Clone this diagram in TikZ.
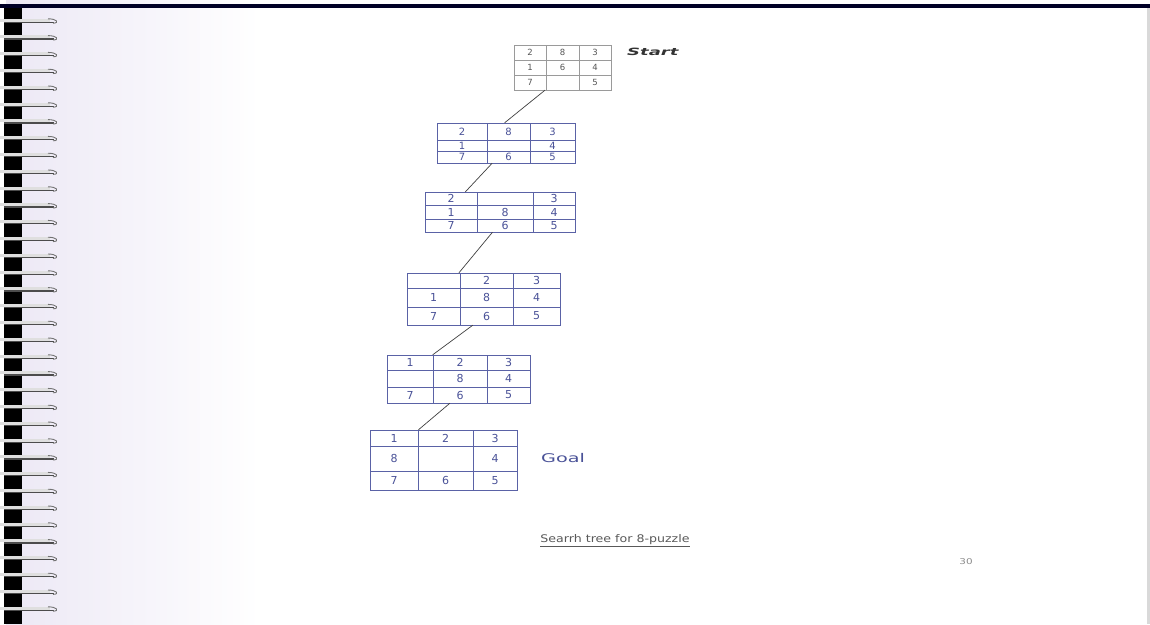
\documentclass[tikz,border=0pt]{standalone}
\usepackage{fontspec}
\setmainfont{DejaVu Sans}
\usetikzlibrary{fit,calc}
\definecolor{ink}{HTML}{5A62A6}
\definecolor{inktext}{HTML}{4A5298}
\definecolor{printline}{HTML}{9A9A9A}
\definecolor{printtext}{HTML}{555555}
\definecolor{lav}{HTML}{ECE8F5}
\tikzset{
  handline/.style={draw=ink, line width=0.8pt},
  handtext/.style={text=inktext, font=\fontsize{11}{11}\selectfont, inner sep=0pt},
  handsmall/.style={text=inktext, font=\fontsize{10}{10}\selectfont, inner sep=0pt},
  printgrid/.style={draw=printline, line width=0.6pt},
  printnum/.style={text=printtext, font=\fontsize{8.5}{8.5}\selectfont, inner sep=0pt},
  edge/.style={draw=black!75, line width=0.7pt},
  coil/.style={line width=3pt, draw=gray!25},
  coilshadow/.style={line width=1.3pt, draw=black!70},
}
\def\pgridsetx#1,#2,#3,#4\relax{\def\gxa{#1}\def\gxb{#2}\def\gxc{#3}\def\gxd{#4}}
\def\pgridsety#1,#2,#3,#4\relax{\def\gya{#1}\def\gyb{#2}\def\gyc{#3}\def\gyd{#4}}
% #1 name, #2 line style, #3 text style, #4 xs, #5 ys, #6 entries
\newcommand\pgrid[6]{%
  \pgridsetx#4\relax
  \pgridsety#5\relax
  \pgfmathsetmacro\gcxa{(\gxa+\gxb)/2}\pgfmathsetmacro\gcxb{(\gxb+\gxc)/2}\pgfmathsetmacro\gcxc{(\gxc+\gxd)/2}%
  \pgfmathsetmacro\gcya{(\gya+\gyb)/2}\pgfmathsetmacro\gcyb{(\gyb+\gyc)/2}\pgfmathsetmacro\gcyc{(\gyc+\gyd)/2}%
  \node[inner sep=0pt, fit={(\gxa,\gya)(\gxd,\gyd)}] (#1) {};
  \draw[#2] (\gxa,\gya) rectangle (\gxd,\gyd)
    (\gxb,\gya) -- (\gxb,\gyd) (\gxc,\gya) -- (\gxc,\gyd)
    (\gxa,\gyb) -- (\gxd,\gyb) (\gxa,\gyc) -- (\gxd,\gyc);
  \foreach \ent [count=\gi from 0] in {#6} {%
    \pgfmathtruncatemacro\gcol{mod(\gi,3)}%
    \pgfmathtruncatemacro\grow{int(\gi/3)}%
    \ifcase\gcol \let\gcx\gcxa \or \let\gcx\gcxb \else \let\gcx\gcxc \fi
    \ifcase\grow \let\gcy\gcya \or \let\gcy\gcyb \else \let\gcy\gcyc \fi
    \node[#3] (#1-\gi) at (\gcx,\gcy) {\ent};
  }
}
\begin{document}
\begin{tikzpicture}[x=1pt,y=-1pt]
\useasboundingbox (0,0) rectangle (1150,624);
% page
\fill[white] (0,0) rectangle (1150,624);
\shade[left color=lav, right color=white] (6,0) rectangle (260,624);
\fill[black!85!blue] (0,4) rectangle (1150,8);
\fill[black!15] (1147,8) rectangle (1150,624);
% spiral binding
\fill[black] (4,8) rectangle (22,624);
\foreach \cy in {20,36.8,...,620} {
  \draw[coilshadow] (4,\cy+2.2) -- (54,\cy+2.2);
  \draw[coil] (0,\cy) -- (50,\cy);
  \draw[black!55, line width=0.9pt] (48,\cy-1.2) .. controls (57,\cy-1.2) and (60,\cy+3) .. (53,\cy+3.2);
}
% grids
\pgrid{g1}{printgrid}{printnum}{514,546,579,611}{45,60,75,90}{2,8,3,1,6,4,7,{},5}
\pgrid{g2}{handline}{handsmall}{437,487,530,575}{123,140,151,163}{2,8,3,1,{},4,7,6,5}
\pgrid{g3}{handline}{handtext}{425,477,533,575}{192,205,219,232}{2,{},3,1,8,4,7,6,5}
\pgrid{g4}{handline}{handtext}{407,460,513,560}{273,288,307,325}{{},2,3,1,8,4,7,6,5}
\pgrid{g5}{handline}{handtext}{387,433,487,530}{355,370,387,403}{1,2,3,{},8,4,7,6,5}
\pgrid{g6}{handline}{handtext}{370,418,473,517}{430,446,471,490}{1,2,3,8,{},4,7,6,5}
% connector ends
\coordinate (c1a) at ($(g1.south west)!0.32!(g1.south east)$);
\coordinate (c1b) at ($(g2.north west)!0.49!(g2.north east)$);
\coordinate (c2a) at ($(g2.south west)!0.40!(g2.south east)$);
\coordinate (c2b) at ($(g3.north west)!0.27!(g3.north east)$);
\coordinate (c3a) at ($(g3.south west)!0.45!(g3.south east)$);
\coordinate (c3b) at ($(g4.north west)!0.34!(g4.north east)$);
\coordinate (c4a) at ($(g4.south west)!0.43!(g4.south east)$);
\coordinate (c4b) at ($(g5.north west)!0.32!(g5.north east)$);
\coordinate (c5a) at ($(g5.south west)!0.44!(g5.south east)$);
\coordinate (c5b) at ($(g6.north west)!0.33!(g6.north east)$);
\draw[edge] (c1a) -- (c1b);
\draw[edge] (c2a) -- (c2b);
\draw[edge] (c3a) -- (c3b);
\draw[edge] (c4a) -- (c4b);
\draw[edge] (c5a) -- (c5b);
% labels
\node[anchor=west, text=black!80, font=\fontsize{10}{10}\selectfont\bfseries\itshape, inner sep=0pt] (start) at (627,52) {\scalebox{1.8}[1]{Start}};
\node[anchor=west, text=inktext, font=\fontsize{12}{12}\selectfont, inner sep=0pt] (goal) at (541,458) {\scalebox{1.6}[1]{Goal}};
\node[text=black!65, font=\fontsize{10.5}{10.5}\selectfont, inner sep=0pt] (cap) at (615,541) {\scalebox{1.2}[1]{\underline{Searrh tree for 8-puzzle}}};
\node[text=black!45, font=\fontsize{8}{8}\selectfont, inner sep=0pt] (page) at (966,562) {\scalebox{1.3}[1]{30}};
\end{tikzpicture}
\end{document}
